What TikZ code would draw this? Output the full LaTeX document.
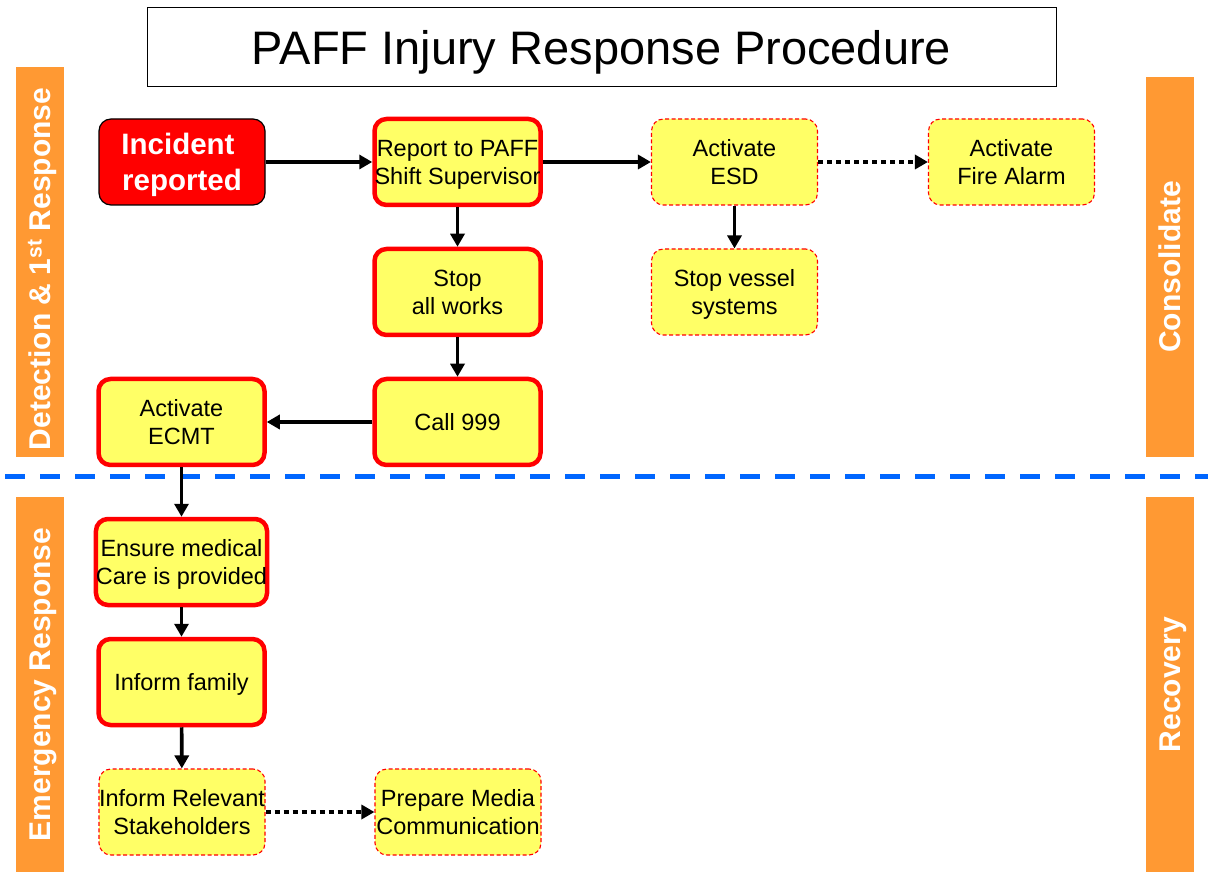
\documentclass[tikz,border=0pt]{standalone}
\usepackage{fontspec}
\setmainfont{Liberation Sans}
\usetikzlibrary{arrows.meta}
\definecolor{boxyellow}{RGB}{255,255,102}
\definecolor{barorange}{RGB}{255,153,51}
\definecolor{sepblue}{RGB}{0,102,255}
\begin{document}
\begin{tikzpicture}[x=1pt,y=-1pt,
  % text boxes are sized to cap height (plus line spacing) so the lettering sits visually centred
  box/.style={rounded corners=12, minimum width=166, minimum height=86,
    align=center, inner sep=0pt, font=\fontsize{23.5}{27.5}\selectfont,
    text height=16.8pt, text depth=0pt},
  twolines/.style={text height=44.3pt},
  firmbox/.style={box, fill=boxyellow, draw=red, line width=4.5},
  optbox/.style={box, fill=boxyellow, draw=red, line width=1.1, dash pattern=on 4 off 2.5},
  startbox/.style={box, fill=red, draw=black, line width=1.2, text=white,
    font=\bfseries\fontsize{29.5}{36.5}\selectfont, text height=57.6pt},
  flow/.style={line width=3.6, -{Triangle[length=13,width=14]}},
  maybe/.style={flow, dash pattern=on 5 off 4},
  phase/.style={fill=barorange, text=white, inner sep=0pt, minimum height=48,
    rotate=90, font=\bfseries\fontsize{30}{34}\selectfont, text height=21.5pt, text depth=0pt}
]
\useasboundingbox (0,0) rectangle (1208,874);

% title
\node[draw=black, line width=1, minimum width=909, minimum height=79, inner sep=0pt,
  text height=33.7pt, text depth=0pt,
  font=\fontsize{47}{50}\selectfont] (title) at (601.5,47.5) {PAFF Injury Response Procedure};

% phase bars
\node[phase, minimum width=390] (detect) at (40,262) {Detection \& 1\textsuperscript{st} Response\hspace*{14pt}};
\node[phase, minimum width=375] (emerg) at (40,684.5) {Emergency Response};
\node[phase, minimum width=380] (consol) at (1170,267) {Consolidate};
\node[phase, minimum width=375] (recov) at (1170,684.5) {Recovery};

% boundary between the two phases
\coordinate (sepL) at (5,477);
\coordinate (sepR) at (1208,477);
\draw[sepblue, line width=5, dash pattern=on 20 off 15] (sepL) -- (sepR);

% steps
\node[startbox] (inc) at (182,162) {Incident\hspace*{8pt}\\reported};
\node[firmbox, twolines] (rep) at (457.5,162) {Report to PAFF\\Shift Supervisor};
\node[optbox, twolines] (esd) at (734.5,162) {Activate\\ESD};
\node[optbox, twolines] (fire) at (1011.5,162) {Activate\\Fire Alarm};
\node[firmbox, twolines] (stop) at (457.5,292) {Stop\\all works};
\node[optbox, twolines] (vessel) at (734.5,292) {Stop vessel\\systems};
\node[firmbox] (call) at (457.5,422) {Call 999};
\node[firmbox, twolines] (ecmt) at (181.5,422) {Activate\\ECMT};
\node[firmbox, twolines] (med) at (181.5,562) {Ensure medical\\Care is provided};
\node[firmbox] (fam) at (181.5,682) {Inform family};
\node[optbox, twolines] (stake) at (182,812) {Inform Relevant\\Stakeholders};
\node[optbox, twolines] (media) at (458,812) {Prepare Media\\Communication};

% connectors
\draw[flow] (inc) -- (rep);
\draw[flow] (rep) -- (esd);
\draw[maybe] (esd) -- (fire);
\draw[flow] (rep) -- (stop);
\draw[flow] (esd) -- (vessel);
\draw[flow] (stop) -- (call);
\draw[flow] (call) -- (ecmt);
\draw[flow] (ecmt) -- (med);
\draw[flow] (med) -- (fam);
\draw[flow] (fam) -- (stake);
\draw[maybe] (stake) -- (media);
\end{tikzpicture}
\end{document}
